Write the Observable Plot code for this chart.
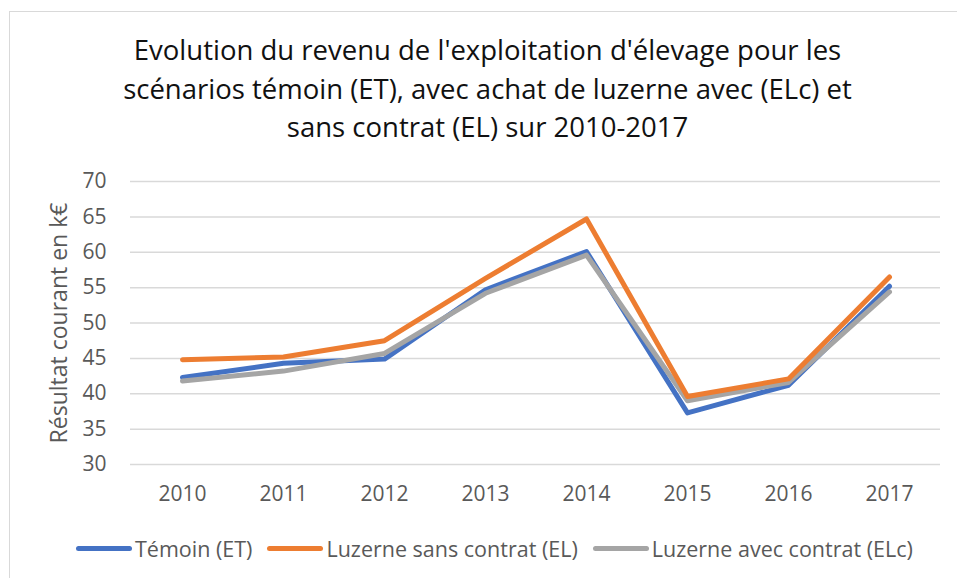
<!DOCTYPE html>
<html>
<head>
<meta charset="utf-8">
<script src="https://cdn.jsdelivr.net/npm/d3@7"></script>
<script src="https://cdn.jsdelivr.net/npm/@observablehq/plot@0.6"></script>
<style>
  html, body { margin: 0; padding: 0; background: #fff; }
  body { width: 957px; height: 578px; position: relative; overflow: hidden; font-family: "Open Sans", sans-serif; }
  #frame { position: absolute; left: 9px; top: 11px; width: 1000px; height: 1000px; border: 1.5px solid #d9d9d9; box-sizing: border-box; }
  #title { position: absolute; left: 0; top: 31px; width: 975px; text-align: center; font-size: 27.5px; line-height: 38.5px; color: #111; }
  #chart { position: absolute; left: 0; top: 160px; }
  #chart svg g[aria-label="y-axis label"] text { font-size: 23px; }
  #legend { position: absolute; top: 533px; left: 76px; height: 30px; display: flex; align-items: center; font-size: 21.5px; color: #595959; white-space: nowrap; }
  .item { display: flex; align-items: center; margin-right: 15px; }
  .sw { width: 56px; height: 5px; border-radius: 3px; margin-right: 3px; }
</style>
</head>
<body>
<div id="frame"></div>
<div id="title">Evolution du revenu de l'exploitation d'élevage pour les<br>scénarios témoin (ET), avec achat de luzerne avec (ELc) et<br>sans contrat (EL) sur 2010-2017</div>
<div id="chart"></div>
<div id="legend"></div>
<script>
const years = ["2010", "2011", "2012", "2013", "2014", "2015", "2016", "2017"];
const temoinET = [42.3, 44.3, 44.9, 54.7, 60.1, 37.3, 41.2, 55.2];
const luzerneSansContratEL = [44.8, 45.2, 47.5, 56.3, 64.7, 39.6, 42.1, 56.5];
const luzerneAvecContratELc = [41.8, 43.2, 45.7, 54.2, 59.6, 39.0, 41.6, 54.4];
const seriesNames = ["Témoin (ET)", "Luzerne sans contrat (EL)", "Luzerne avec contrat (ELc)"];
const seriesColors = ["#4472C4", "#ED7D31", "#A5A5A5"];
const yTicks = [30, 35, 40, 45, 50, 55, 60, 65, 70];
const yLabel = "Résultat courant en k€";

const seriesValues = [temoinET, luzerneSansContratEL, luzerneAvecContratELc];
const rows = [];
seriesValues.forEach((vals, si) => {
  vals.forEach((v, i) => rows.push({year: years[i], value: v, series: seriesNames[si]}));
});
const drawOrder = [0, 2, 1];

const plot = Plot.plot({
  width: 957,
  height: 360,
  marginTop: 21,
  marginBottom: 56,
  marginLeft: 130,
  marginRight: 17,
  style: { fontFamily: "Open Sans, sans-serif", fontSize: "21px", color: "#595959", background: "transparent" },
  x: { type: "point", domain: years, padding: 0.5 },
  y: { domain: [30, 70] },
  color: { domain: seriesNames, range: seriesColors },
  marks: [
    Plot.gridY(yTicks, { stroke: "#d9d9d9", strokeOpacity: 1, strokeWidth: 1.5 }),
    Plot.axisY(yTicks, { tickSize: 0, tickPadding: 24, label: yLabel, labelAnchor: "center", labelArrow: "none", labelOffset: 80, fill: "#595959" }),
    Plot.axisX({ tickSize: 0, tickPadding: 22, label: null, fill: "#595959" }),
    ...drawOrder.map(si => Plot.line(rows.filter(d => d.series === seriesNames[si]), {
      x: "year", y: "value", stroke: seriesColors[si], strokeWidth: 5, strokeLinecap: "round", strokeLinejoin: "round"
    }))
  ]
});
document.getElementById("chart").appendChild(plot);

const legend = document.getElementById("legend");
seriesNames.forEach((n, i) => {
  const it = document.createElement("div");
  it.className = "item";
  it.innerHTML = `<div class="sw" style="background:${seriesColors[i]}"></div><span>${n}</span>`;
  legend.appendChild(it);
});
</script>
</body>
</html>
